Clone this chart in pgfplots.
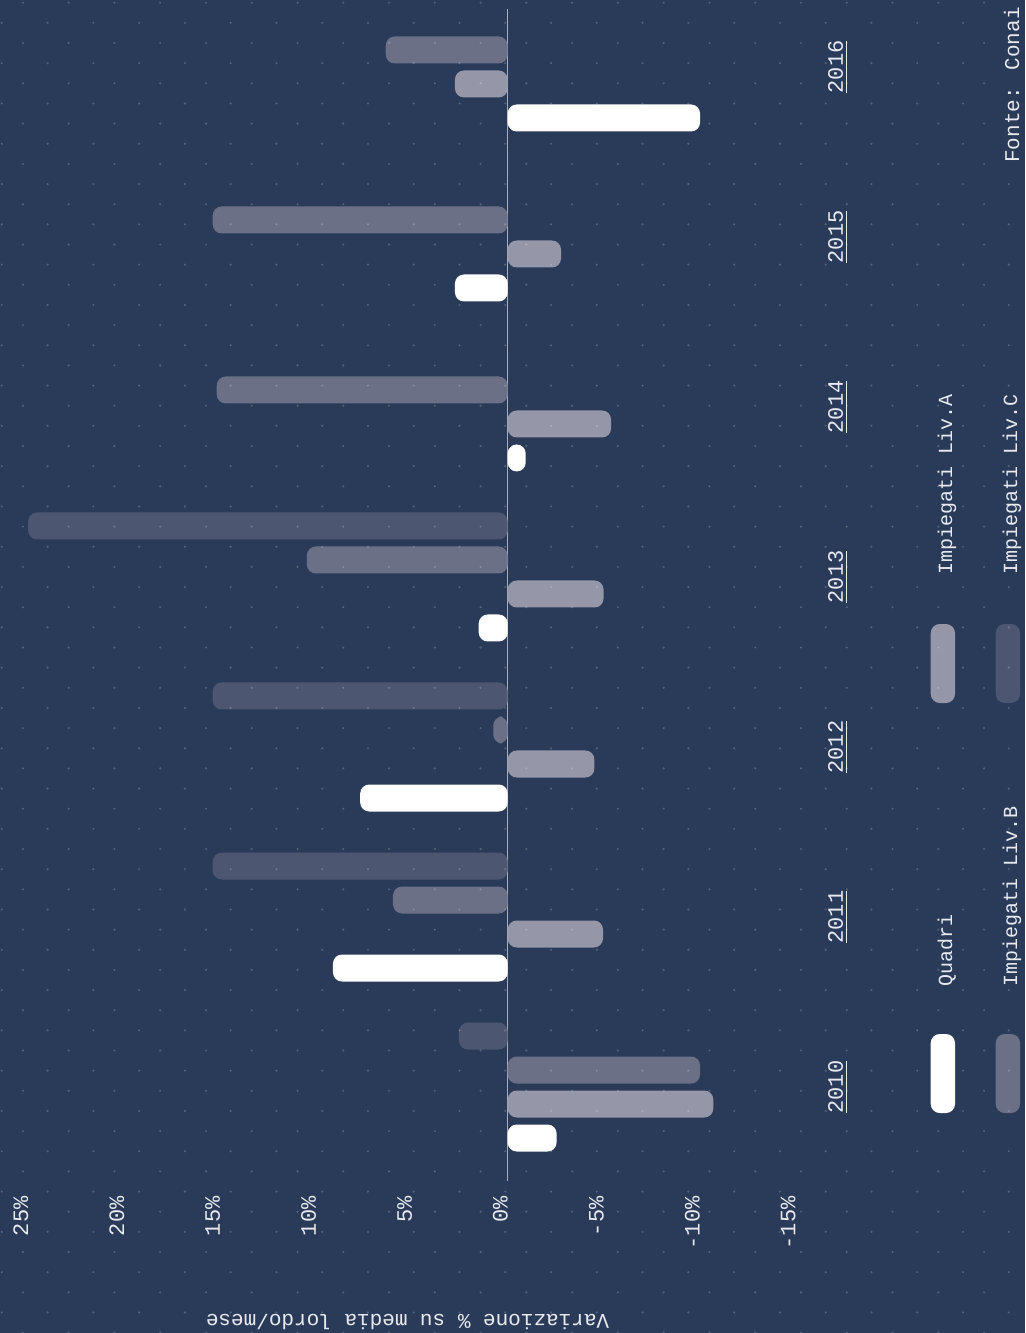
\documentclass[border=0pt]{standalone}
\usepackage{fontspec}
\setmainfont{Liberation Mono}
\setmonofont{Liberation Mono}
\usepackage{pgfplots}
\pgfplotsset{compat=1.18}

\definecolor{bg}{HTML}{293B58}
\definecolor{cq}{HTML}{FFFFFF}
\definecolor{ca}{HTML}{9597A8}
\definecolor{cb}{HTML}{6C7087}
\definecolor{cc}{HTML}{4D5670}
\definecolor{zline}{HTML}{A8ADBD}
\definecolor{txt}{HTML}{E9EAEF}

\begin{document}
\color{txt}
\begin{tikzpicture}
\path[use as bounding box] (0,0) rectangle (512.5pt,-666.5pt);
\fill[bg] (0,0) rectangle (512.5pt,-666.5pt);

\begin{axis}[
    at={(0pt,-4.5pt)}, anchor=north west,
    scale only axis,
    width=402.5pt, height=586pt,
    xbar, bar width=13.5pt,
    x dir=reverse,
    xmin=-15.5, xmax=26.47,
    ymin=-0.553, ymax=6.341,
    axis line style={draw=none},
    major tick length=0pt,
    xtick={-15,-10,-5,0,5,10,15,20,25},
    xticklabels={-15\%,-10\%,-5\%,0\%,5\%,10\%,15\%,20\%,25\%},
    xticklabel style={rotate=90, anchor=base east, inner sep=0pt, font=\fontsize{11}{13}\selectfont},
    xticklabel shift=7.5pt,
    ytick={0,1,2,3,4,5,6},
    yticklabels={\underline{2010},\underline{2011},\underline{2012},\underline{2013},\underline{2014},\underline{2015},\underline{2016}},
    yticklabel pos=right,
    yticklabel style={rotate=90, anchor=base, inner sep=0pt, font=\fontsize{11}{13}\selectfont},
    yticklabel shift=19pt,
    extra x ticks={0},
    extra x tick labels={},
    extra x tick style={grid=major, grid style={draw=zline, line width=0.75pt}},
    xlabel={Variazione \% su media lordo/mese},
    xlabel style={at={(axis description cs:0.5062,-0.1135)}, rotate=180, anchor=base, inner sep=0pt, font=\fontsize{10.5}{12}\selectfont},
    every axis plot/.append style={draw=none, rounded corners=4.5pt},
]

% Quadri
\addplot[fill=cq, bar shift=-25.5pt] coordinates {
    (-2.55,0) (9.11,1) (7.69,2) (1.51,3) (-0.94,4) (2.75,5) (-10.03,6)
};

% Impiegati Liv.A
\addplot[fill=ca, bar shift=-8.5pt] coordinates {
    (-10.72,0) (-4.97,1) (-4.52,2) (-5.0,3) (-5.39,4) (-2.78,5) (2.75,6)
};

% Impiegati Liv.B
\addplot[fill=cb, bar shift=8.5pt] coordinates {
    (-10.03,0) (5.98,1) (0.75,2) (10.47,3) (15.17,4) (15.38,5) (6.36,6)
};

% Impiegati Liv.C
\addplot[fill=cc, bar shift=25.5pt] coordinates {
    (2.54,0) (15.38,1) (15.38,2) (25.0,3)
};

\end{axis}

% legend, source note and dotted texture, in px units (y down)
\begin{scope}[x=0.5pt, y=-0.5pt]
\tikzset{legtxt/.style={rotate=90, anchor=base west, inner sep=0pt, font=\fontsize{10}{12}\selectfont}}
\fill[cq, rounded corners=4.5pt] (930.7,1034) rectangle (955,1113);
\fill[cb, rounded corners=4.5pt] (995.7,1034) rectangle (1020,1113);
\fill[ca, rounded corners=4.5pt] (930.7,624) rectangle (955,703);
\fill[cc, rounded corners=4.5pt] (995.7,624) rectangle (1020,703);
\node[legtxt] at (952,987) {Quadri};
\node[legtxt] at (1017,987) {Impiegati Liv.B};
\node[legtxt] at (952,575) {Impiegati Liv.A};
\node[legtxt] at (1017,575) {Impiegati Liv.C};
\node[rotate=90, anchor=base west, inner sep=0pt, font=\fontsize{10.5}{12}\selectfont] at (1019,163) {Fonte: Conai};
\fill[white, fill opacity=0.2]
    \foreach \r in {0,...,33}{\foreach \c in {0,...,21}{(22.9+45.77*\c,2.7+40.3*\r) circle[radius=1.2]}}
    \foreach \r in {0,...,32}{\foreach \c in {0,...,22}{(1.8+45.77*\c,22.85+40.3*\r) circle[radius=1.2]}};
\end{scope}
\end{tikzpicture}
\end{document}
